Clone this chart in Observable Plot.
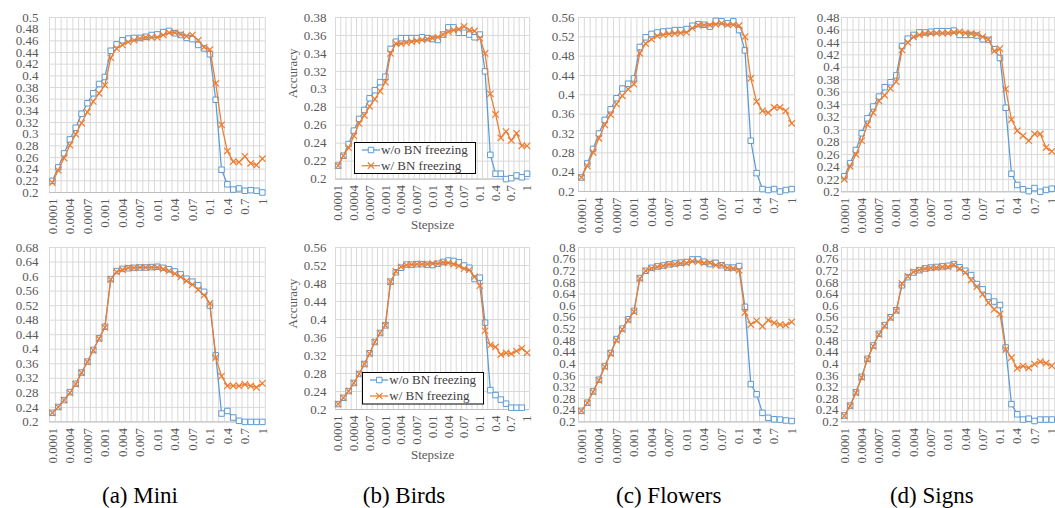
<!DOCTYPE html>
<html>
<head>
<meta charset="utf-8">
<script src="https://cdn.jsdelivr.net/npm/d3@7"></script>
<script src="https://cdn.jsdelivr.net/npm/@observablehq/plot@0.6"></script>
<style>
  html, body { margin: 0; padding: 0; background: #ffffff; }
  #root { position: relative; width: 1055px; height: 508px; overflow: hidden; background: #ffffff; font-family: "Liberation Serif", "Times New Roman", Times, "Nimbus Roman", "DejaVu Serif", serif; }
  #root svg { position: absolute; overflow: visible; }
  #root svg text { font-family: "Liberation Serif", "Times New Roman", Times, "Nimbus Roman", "DejaVu Serif", serif; }
</style>
</head>
<body>
<div id="root"></div>
<script>
// ---------- data ----------
const categories = [
  "0.0001","0.0002","0.0003","0.0004","0.0005","0.0006","0.0007","0.0008","0.0009",
  "0.001","0.002","0.003","0.004","0.005","0.006","0.007","0.008","0.009",
  "0.01","0.02","0.03","0.04","0.05","0.06","0.07","0.08","0.09",
  "0.1","0.2","0.3","0.4","0.5","0.6","0.7","0.8","0.9","1"
];
const tickLabels = ["0.0001","0.0004","0.0007","0.001","0.004","0.007","0.01","0.04","0.07","0.1","0.4","0.7","1"];
const seriesNames = ["w/o BN freezing", "w/ BN freezing"];
const captions = ["(a) Mini", "(b) Birds", "(c) Flowers", "(d) Signs"];

// top row
const miniTopWO = [0.220,0.243,0.267,0.291,0.311,0.335,0.353,0.370,0.386,0.398,0.443,0.454,0.461,0.464,0.465,0.465,0.467,0.470,0.471,0.475,0.477,0.473,0.470,0.465,0.463,0.453,0.447,0.437,0.359,0.239,0.214,0.205,0.207,0.203,0.204,0.203,0.200];
const miniTopW  = [0.217,0.238,0.259,0.281,0.300,0.319,0.338,0.356,0.370,0.384,0.431,0.447,0.453,0.458,0.461,0.464,0.466,0.466,0.466,0.470,0.474,0.474,0.471,0.468,0.470,0.461,0.449,0.445,0.387,0.316,0.271,0.253,0.252,0.262,0.250,0.247,0.258];
const birdsTopWO = [0.215,0.226,0.239,0.254,0.267,0.277,0.290,0.299,0.308,0.314,0.345,0.353,0.357,0.357,0.357,0.357,0.358,0.357,0.356,0.355,0.361,0.369,0.369,0.363,0.363,0.361,0.358,0.361,0.320,0.227,0.206,0.206,0.200,0.201,0.204,0.202,0.206];
const birdsTopW  = [0.215,0.226,0.235,0.248,0.262,0.271,0.281,0.289,0.298,0.308,0.340,0.351,0.351,0.352,0.353,0.354,0.355,0.356,0.357,0.358,0.361,0.364,0.366,0.367,0.370,0.366,0.365,0.357,0.340,0.295,0.272,0.246,0.253,0.243,0.251,0.237,0.237];
const flowersTopWO = [0.229,0.258,0.288,0.320,0.348,0.370,0.393,0.413,0.423,0.434,0.499,0.519,0.526,0.529,0.531,0.532,0.534,0.534,0.536,0.543,0.546,0.545,0.541,0.553,0.552,0.548,0.552,0.534,0.492,0.305,0.238,0.205,0.203,0.205,0.200,0.203,0.205];
const flowersTopW  = [0.229,0.253,0.281,0.310,0.338,0.359,0.381,0.398,0.412,0.422,0.486,0.506,0.515,0.522,0.524,0.526,0.527,0.528,0.529,0.538,0.544,0.544,0.544,0.546,0.548,0.545,0.545,0.543,0.520,0.434,0.386,0.367,0.363,0.374,0.374,0.367,0.341];
const signsTopWO = [0.225,0.246,0.267,0.294,0.318,0.337,0.353,0.368,0.376,0.387,0.434,0.446,0.452,0.456,0.456,0.457,0.458,0.458,0.458,0.459,0.452,0.452,0.452,0.451,0.445,0.444,0.429,0.415,0.335,0.229,0.211,0.204,0.201,0.206,0.200,0.203,0.205];
const signsTopW  = [0.220,0.241,0.260,0.282,0.308,0.327,0.346,0.355,0.366,0.377,0.428,0.440,0.449,0.452,0.454,0.455,0.455,0.455,0.455,0.456,0.457,0.455,0.454,0.453,0.449,0.445,0.426,0.430,0.365,0.316,0.298,0.290,0.282,0.293,0.293,0.271,0.265];

// bottom row
const miniBotWO = [0.225,0.241,0.260,0.282,0.305,0.336,0.366,0.398,0.430,0.462,0.593,0.615,0.621,0.623,0.624,0.625,0.625,0.626,0.627,0.624,0.620,0.614,0.606,0.594,0.586,0.576,0.558,0.520,0.383,0.223,0.230,0.212,0.203,0.200,0.200,0.200,0.200];
const miniBotW  = [0.225,0.241,0.260,0.280,0.304,0.335,0.365,0.397,0.429,0.460,0.592,0.613,0.619,0.624,0.624,0.625,0.625,0.625,0.625,0.621,0.616,0.608,0.599,0.588,0.578,0.564,0.549,0.526,0.377,0.326,0.299,0.299,0.299,0.303,0.299,0.295,0.306];
const birdsBotWO = [0.212,0.226,0.241,0.259,0.279,0.301,0.325,0.350,0.370,0.387,0.484,0.505,0.515,0.522,0.522,0.523,0.523,0.522,0.521,0.524,0.528,0.531,0.530,0.527,0.520,0.515,0.490,0.493,0.393,0.243,0.232,0.222,0.213,0.204,0.204,0.204,null];
const birdsBotW  = [0.212,0.226,0.241,0.259,0.279,0.301,0.324,0.350,0.370,0.387,0.484,0.507,0.517,0.521,0.522,0.523,0.523,0.523,0.524,0.524,0.527,0.526,0.523,0.519,0.513,0.510,0.495,0.475,0.375,0.343,0.339,0.322,0.326,0.324,0.330,0.336,0.326];
const flowersBotWO = [0.238,0.266,0.305,0.345,0.392,0.437,0.485,0.521,0.553,0.582,0.695,0.720,0.730,0.735,0.738,0.742,0.745,0.748,0.750,0.759,0.759,0.751,0.743,0.747,0.739,0.731,0.731,0.736,0.596,0.330,0.295,0.231,0.214,0.209,0.208,0.205,0.203];
const flowersBotW  = [0.238,0.265,0.303,0.343,0.389,0.435,0.481,0.518,0.550,0.579,0.693,0.720,0.728,0.733,0.737,0.742,0.743,0.745,0.747,0.753,0.751,0.747,0.747,0.739,0.739,0.730,0.728,0.722,0.576,0.535,0.548,0.529,0.550,0.541,0.535,0.533,0.544];
const signsBotWO = [0.222,0.256,0.302,0.355,0.417,0.463,0.503,0.533,0.560,0.584,0.670,0.698,0.714,0.722,0.728,0.731,0.733,0.735,0.737,0.743,0.732,0.720,0.705,0.674,0.656,0.631,0.614,0.602,0.456,0.261,0.226,0.208,0.211,0.203,0.208,0.208,0.208];
const signsBotW  = [0.221,0.255,0.300,0.353,0.415,0.460,0.501,0.530,0.558,0.582,0.676,0.701,0.716,0.722,0.727,0.730,0.731,0.733,0.733,0.741,0.727,0.714,0.688,0.665,0.639,0.610,0.587,0.571,0.449,0.421,0.384,0.392,0.386,0.399,0.407,0.402,0.393];

// y-axis settings per panel: [min, max, step]
const yAxes = {
  miniTop: [0.2, 0.5, 0.02], birdsTop: [0.2, 0.38, 0.02], flowersTop: [0.2, 0.56, 0.04], signsTop: [0.2, 0.48, 0.02],
  miniBot: [0.2, 0.68, 0.04], birdsBot: [0.2, 0.56, 0.04], flowersBot: [0.2, 0.8, 0.04], signsBot: [0.2, 0.8, 0.04]
};

// ---------- drawing ----------
const BLUE = "#5B9BD5", ORANGE = "#ED7D31", GRID = "#d9d9d9", TEXT = "#595959";
const FONT = "'Liberation Serif', 'Times New Roman', Times, 'Nimbus Roman', 'DejaVu Serif', serif";
const tickIdx = tickLabels.map(t => categories.indexOf(t));
const fmt = d => String(+d.toFixed(2));
const toRows = arr => arr.map((v, i) => ({i, v})).filter(d => d.v != null);
const root = document.getElementById("root");

const panels = [
  {wo: miniTopWO, w: miniTopW, ax: yAxes.miniTop, x0: 49.1, x1: 264.9, yt: 16.7, yb: 191.7, pad: 11},
  {wo: birdsTopWO, w: birdsTopW, ax: yAxes.birdsTop, x0: 335.1, x1: 529.3, yt: 16.7, yb: 178.3, pad: 9, labels: true},
  {wo: flowersTopWO, w: flowersTopW, ax: yAxes.flowersTop, x0: 577.8, x1: 793.9, yt: 16.7, yb: 190.7, pad: 4},
  {wo: signsTopWO, w: signsTopW, ax: yAxes.signsTop, x0: 841.4, x1: 1054.6, yt: 16.7, yb: 191.0, pad: 2},
  {wo: miniBotWO, w: miniBotW, ax: yAxes.miniBot, x0: 49.1, x1: 264.9, yt: 247.3, yb: 421.7, pad: 11},
  {wo: birdsBotWO, w: birdsBotW, ax: yAxes.birdsBot, x0: 335.1, x1: 529.3, yt: 247.3, yb: 409.3, pad: 9, labels: true},
  {wo: flowersBotWO, w: flowersBotW, ax: yAxes.flowersBot, x0: 577.8, x1: 793.9, yt: 247.3, yb: 421.7, pad: 3},
  {wo: signsBotWO, w: signsBotW, ax: yAxes.signsBot, x0: 841.4, x1: 1054.6, yt: 247.3, yb: 421.7, pad: 3}
];

for (const p of panels) {
  const mL = 70, mR = 6, mT = 10, mB = 70;
  const [ymin, ymax, step] = p.ax;
  const n = Math.round((ymax - ymin) / step);
  const yTicks = d3.range(n + 1).map(k => +(ymin + k * step).toFixed(2));
  const wo = toRows(p.wo), w = toRows(p.w);
  const marks = [
    Plot.ruleY(yTicks, {stroke: GRID, strokeWidth: 1}),
    Plot.ruleX(d3.range(categories.length + 1).map(k => k - 0.5), {stroke: GRID, strokeWidth: 1}),
    Plot.ruleY([ymin], {stroke: "#bfbfbf", strokeWidth: 1}),
    Plot.axisY({ticks: yTicks, tickSize: 0, tickPadding: p.pad, tickFormat: fmt, label: null}),
    Plot.axisX({ticks: tickIdx, tickSize: 0, tickPadding: 6, tickRotate: -90, tickFormat: i => categories[i], label: null}),
    Plot.line(wo, {x: "i", y: "v", stroke: BLUE, strokeWidth: 1.25}),
    Plot.dot(wo, {x: "i", y: "v", symbol: "square", r: 3.1, stroke: BLUE, fill: "white", strokeWidth: 1}),
    Plot.line(w, {x: "i", y: "v", stroke: ORANGE, strokeWidth: 1.25}),
    Plot.dot(w, {x: "i", y: "v", symbol: "times", r: 3, stroke: ORANGE, strokeWidth: 1.2})
  ];
  if (p.labels) {
    marks.push(
      Plot.text(["Accuracy"], {text: d => d, frameAnchor: "left", dx: 292.5 - p.x0, rotate: -90, fill: TEXT, fontSize: 13}),
      Plot.text(["Stepsize"], {text: d => d, frameAnchor: "bottom", dy: 50, fill: TEXT, fontSize: 13})
    );
  }
  const svg = Plot.plot({
    width: (p.x1 - p.x0) + mL + mR,
    height: (p.yb - p.yt) + mT + mB,
    marginLeft: mL, marginRight: mR, marginTop: mT, marginBottom: mB,
    x: {type: "linear", domain: [-0.5, categories.length - 0.5]},
    y: {domain: [ymin, ymax]},
    style: {fontFamily: FONT, fontSize: "13px", color: TEXT, background: "transparent", overflow: "visible"},
    marks
  });
  svg.style.left = (p.x0 - mL) + "px";
  svg.style.top = (p.yt - mT) + "px";
  root.appendChild(svg);
}

// overlay: legends and captions
const ov = d3.select(root).append("svg")
  .attr("width", 1055).attr("height", 508)
  .style("left", "0px").style("top", "0px")
  .style("font-family", FONT);

function legend(bx, by, bw, bh, lx0, lx1, mx, tx, rowsY) {
  const g = ov.append("g");
  g.append("rect").attr("x", bx).attr("y", by).attr("width", bw).attr("height", bh)
    .attr("fill", "white").attr("stroke", "#000").attr("stroke-width", 1);
  const specs = [
    {color: BLUE, sym: d3.symbolSquare, size: 30, fill: "white", sw: 1},
    {color: ORANGE, sym: d3.symbolTimes, size: 28, fill: "none", sw: 1.2}
  ];
  specs.forEach((s, k) => {
    const y = rowsY[k];
    g.append("line").attr("x1", lx0).attr("x2", lx1).attr("y1", y).attr("y2", y)
      .attr("stroke", s.color).attr("stroke-width", 1.25);
    g.append("path").attr("d", d3.symbol(s.sym, s.size)()).attr("transform", `translate(${mx},${y})`)
      .attr("stroke", s.color).attr("fill", s.fill).attr("stroke-width", s.sw);
    g.append("text").attr("x", tx).attr("y", y).attr("dy", "0.32em")
      .attr("font-size", 13).attr("fill", "#404040").text(seriesNames[k]);
  });
}
legend(354.5, 142.5, 121, 31, 361.7, 380, 371, 381, [150, 165.7]);
legend(362.5, 372.5, 121, 31.5, 370, 388.3, 379.3, 389.3, [380, 396]);

const capX = [140, 404, 668.8, 931.8];
captions.forEach((c, k) => {
  ov.append("text").attr("x", capX[k]).attr("y", 503).attr("text-anchor", "middle")
    .attr("font-size", 23).attr("fill", "#000").text(c);
});
</script>
</body>
</html>
